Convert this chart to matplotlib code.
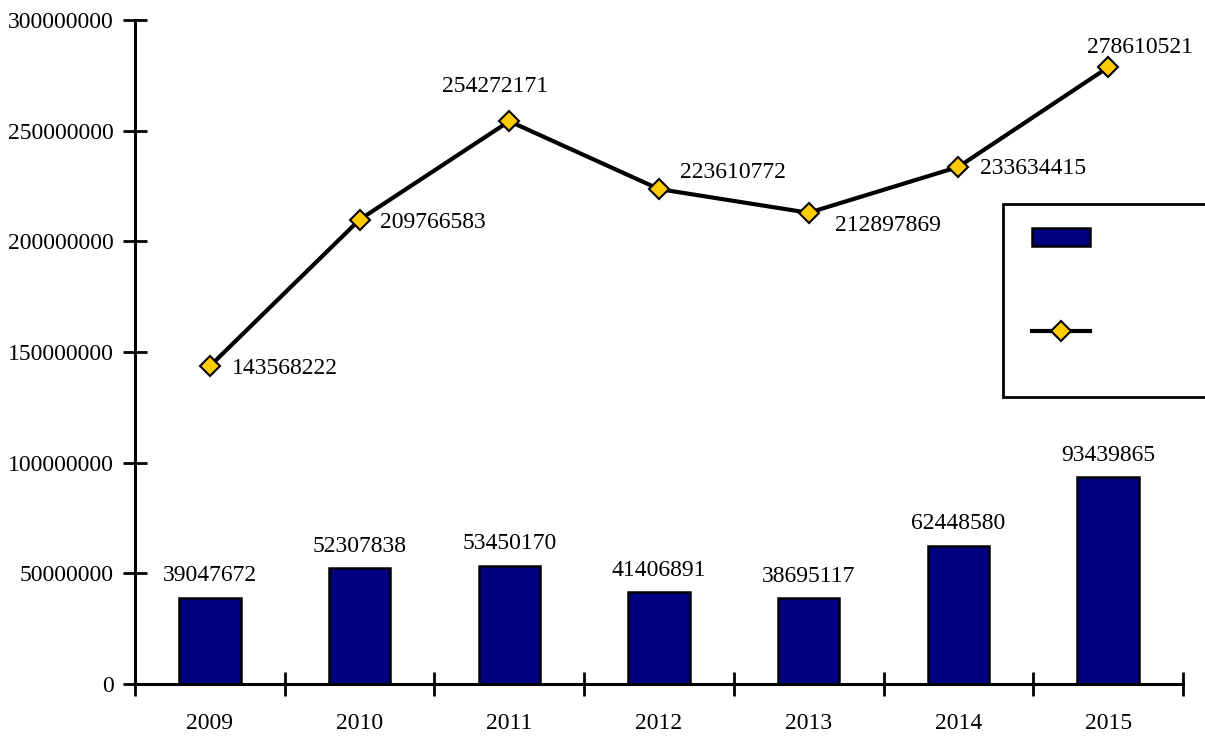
import numpy as np
import matplotlib
matplotlib.use('Agg')
import matplotlib.pyplot as plt
from matplotlib.patches import Rectangle, Patch
from matplotlib.lines import Line2D

plt.rcParams['font.family'] = ['Liberation Serif', 'DejaVu Serif']

anni = ['2009', '2010', '2011', '2012', '2013', '2014', '2015']
barre = [39047672, 52307838, 53450170, 41406891, 38695117, 62448580, 93439865]
linea = [143568222, 209766583, 254272171, 223610772, 212897869, 233634415, 278610521]
yticks = [0, 50000000, 100000000, 150000000, 200000000, 250000000, 300000000]

# offsets (pixels) and alignment of the line labels
off_linea = [(22, -2, 'left'), (20, -3, 'left'), (-14, 35, 'center'), (21, 17, 'left'),
             (26, -13, 'left'), (22, -2, 'left'), (32, 20, 'center')]

fs = 17
fig = plt.figure(figsize=(12.05, 7.38), dpi=100)
ax = fig.add_axes([0.1120, 0.0732, 0.8697, 0.8997])

x = np.arange(len(anni))
ax.bar(x, barre, width=0.41, color='#000080', edgecolor='black', linewidth=1.8, zorder=2)
ax.plot(x, linea, color='black', linewidth=3, marker='D', markersize=10,
        markerfacecolor='#FFCC00', markeredgecolor='black', markeredgewidth=1.5, zorder=3)

for i in range(len(anni)):
    ax.annotate(str(barre[i]), (x[i], barre[i]), xytext=(0, 22), textcoords='offset pixels',
                ha='center', va='center', fontsize=fs)
    dx, dy, ha = off_linea[i]
    ax.annotate(str(linea[i]), (x[i], linea[i]), xytext=(dx, dy), textcoords='offset pixels',
                ha=ha, va='center', fontsize=fs)

ax.set_xlim(-0.5, len(anni) - 0.5)
ax.set_ylim(0, 300000000)
ax.set_yticks(yticks)
ax.set_yticklabels([str(v) for v in yticks], fontsize=fs)
ax.set_xticks(x)
ax.set_xticklabels(anni, fontsize=fs)
ax.set_xticks(np.arange(len(anni) + 1) - 0.5, minor=True)
ax.tick_params(axis='x', which='major', length=0, pad=21)
ax.tick_params(axis='x', which='minor', direction='inout', length=17, width=2)
ax.tick_params(axis='y', direction='inout', length=17, width=2, pad=7)

for s in ['top', 'right']:
    ax.spines[s].set_visible(False)
for s in ['left', 'bottom']:
    ax.spines[s].set_linewidth(2.2)

# legend box (labels are empty in the original)
fig.patches.append(Rectangle((0.8324, 0.4621), 0.2, 0.2608, transform=fig.transFigure,
                             facecolor='white', edgecolor='black', linewidth=2, zorder=5))
handles = [Patch(facecolor='#000080', edgecolor='black', linewidth=1.8),
           Line2D([], [], color='black', linewidth=3, marker='D', markersize=10,
                  markerfacecolor='#FFCC00', markeredgecolor='black', markeredgewidth=1.5)]
leg = fig.legend(handles, ['', ''], loc='upper left', bbox_to_anchor=(0.8565, 0.6914),
                 frameon=False, fontsize=20 * 72 / 100, handlelength=2.9, handleheight=1.0,
                 labelspacing=3.75, borderpad=0, borderaxespad=0, handletextpad=0)
leg.set_zorder(6)

fig.savefig('out.png', dpi=100)
